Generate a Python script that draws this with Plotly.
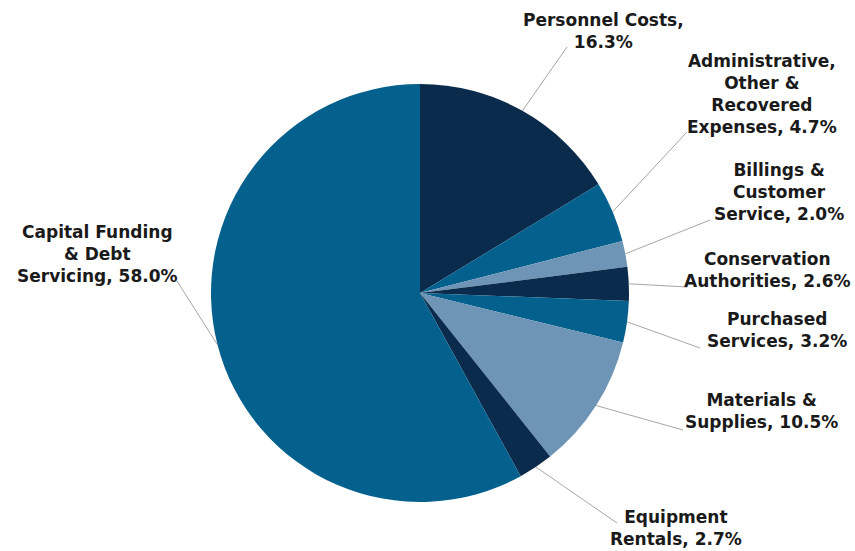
import math
import plotly.graph_objects as go

W, H = 855, 551

categories = [
    "Personnel Costs",
    "Administrative, Other & Recovered Expenses",
    "Billings & Customer Service",
    "Conservation Authorities",
    "Purchased Services",
    "Materials & Supplies",
    "Equipment Rentals",
    "Capital Funding & Debt Servicing",
]
values = [16.3, 4.7, 2.0, 2.6, 3.2, 10.5, 2.7, 58.0]
label_texts = [
    "Personnel Costs,<br>16.3%",
    "Administrative,<br>Other &<br>Recovered<br>Expenses, 4.7%",
    "Billings &<br>Customer<br>Service, 2.0%",
    "Conservation<br>Authorities, 2.6%",
    "Purchased<br>Services, 3.2%",
    "Materials &<br>Supplies, 10.5%",
    "Equipment<br>Rentals, 2.7%",
    "Capital Funding<br>& Debt<br>Servicing, 58.0%",
]

DARK = "#0a2b4b"
MID = "#04608d"
LIGHT = "#6e95b5"
colors = [DARK, MID, LIGHT, DARK, MID, LIGHT, DARK, MID]

# layout: pie centre/radius in pixels, label centres and leader-line ends in pixels
CX, CY, R = 420, 293, 209
label_pos = [(603, 31), (762, 94), (779, 192), (767, 270), (777, 330),
             (761, 411), (676, 528), (97, 254)]
line_ends = [(567, 47), (687, 132), (710, 220), (687, 287), (700, 348),
             (683, 430), (617, 523), (177, 281)]


def px(x):
    return x / W


def py(y):
    return 1 - y / H


fig = go.Figure(go.Pie(
    labels=categories,
    values=values,
    sort=False,
    direction="clockwise",
    rotation=0,
    textinfo="none",
    hoverinfo="label+percent",
    marker=dict(colors=colors, line=dict(width=0)),
    domain=dict(x=[px(CX - R), px(CX + R)], y=[py(CY + R), py(CY - R)]),
    showlegend=False,
))

total = sum(values)
cum = 0.0
shapes = []
annotations = []
for v, txt, (lx, ly), (ex, ey) in zip(values, label_texts, label_pos, line_ends):
    mid = (cum + v / 2) / total * 2 * math.pi
    cum += v
    ax = CX + R * math.sin(mid)
    ay = CY - R * math.cos(mid)
    shapes.append(dict(type="line", xref="paper", yref="paper",
                       x0=px(ax), y0=py(ay), x1=px(ex), y1=py(ey),
                       line=dict(color="#a6a6a6", width=1)))
    annotations.append(dict(x=px(lx), y=py(ly), xref="paper", yref="paper",
                            text="<b>" + txt + "</b>", showarrow=False,
                            xanchor="center", yanchor="middle", align="center",
                            font=dict(family="DejaVu Sans", size=17,
                                      color="#1a1a1a")))

fig.update_layout(
    width=W, height=H,
    margin=dict(l=0, r=0, t=0, b=0),
    paper_bgcolor="white",
    plot_bgcolor="white",
    shapes=shapes,
    annotations=annotations,
)

fig.write_html("out.html")
